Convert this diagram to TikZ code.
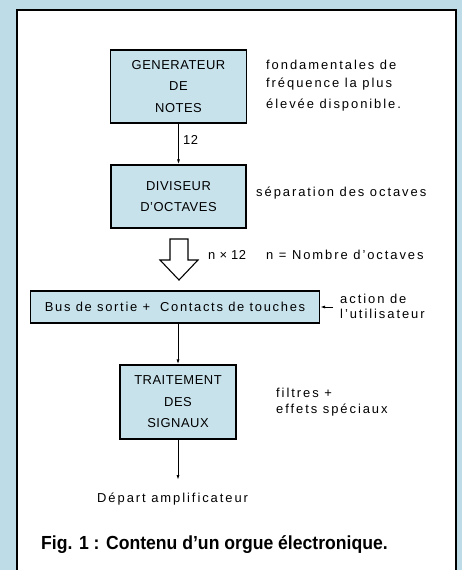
\documentclass[tikz,border=0pt]{standalone}
\usepackage{fontspec}
\usetikzlibrary{arrows.meta}
\newfontfamily\dfont[LetterSpace=4]{Liberation Sans}
\newfontfamily\lfont[LetterSpace=15]{Liberation Sans}
\newfontfamily\bfont[LetterSpace=13]{Liberation Sans}
\newfontfamily\capfont[FakeStretch=0.93]{Liberation Sans Bold}
\definecolor{bgblue}{RGB}{190,220,232}
\definecolor{boxblue}{RGB}{200,226,236}
\tikzset{
  blk/.style={draw=black, line width=1.3pt, fill=boxblue, inner sep=0pt, align=center,
    font=\dfont\fontsize{13}{21.5}\selectfont},
  lbl/.style={inner sep=0pt, anchor=west, align=left,
    font=\lfont\fontsize{13}{18}\selectfont},
  conn/.style={line width=0.9pt, -{Latex[length=5pt,width=3pt]}},
}
\begin{document}
\begin{tikzpicture}[x=1bp,y=-1bp]
\useasboundingbox (0,0) rectangle (462,570);
\fill[bgblue] (0,0) rectangle (462,570);
\fill[white] (17,10) rectangle (456,575);
\draw[line width=2pt] (17,575) -- (17,10) -- (456,10) -- (456,575);

\node[blk, minimum width=136bp, minimum height=73bp] (gen) at (178.5,86.5) {GENERATEUR\\DE\\NOTES};
\node[blk, minimum width=135bp, minimum height=63bp] (div) at (178.5,196.5) {DIVISEUR\\D’OCTAVES};
\node[blk, minimum width=289bp, minimum height=32bp, font=\bfont\fontsize{13}{16}\selectfont] (bus) at (175,307) {Bus de sortie +\hspace{10bp}Contacts de touches};
\node[blk, minimum width=116bp, minimum height=74bp] (trt) at (178,402) {TRAITEMENT\\DES\\SIGNAUX};
\coordinate (out) at (178,480);
\coordinate (usr) at (333,307);

\draw[conn] (gen.south) -- (div.north);
\node[lbl, font=\dfont\fontsize{13}{15}\selectfont] (n12) at (183,140) {12};
\draw[conn] (bus.south -| trt.north) -- (trt.north);
\draw[conn] (trt.south) -- (out);
\draw[conn] (usr) -- (bus.east);

% hollow arrow
\draw[line width=1.1pt, fill=white] (170,239) -- (188,239) -- (188,260) -- (198,260) -- (179,280) -- (160,260) -- (170,260) -- cycle;

\node[lbl] (t1) at (266,86) {fondamentales de\\fréquence la plus\\[3bp]élevée disponible.};
\node[lbl] (t2) at (256,193) {séparation des octaves};
\node[lbl, font=\dfont\fontsize{13}{15}\selectfont] (t3) at (208,255) {n × 12};
\node[lbl] (t4) at (266,255) {n = Nombre d’octaves};
\node[lbl, font=\lfont\fontsize{13}{15}\selectfont] (t5) at (340,306) {action de\\l’utilisateur};
\node[lbl, font=\lfont\fontsize{13}{16}\selectfont] (t6) at (276,402) {filtres +\\effets spéciaux};
\node[lbl] (t7) at (97,499) {Départ amplificateur};
\node[inner sep=0pt, anchor=west, font=\capfont\fontsize{19}{22}\selectfont] (cap) at (41,545) {Fig. 1 : Contenu d’un orgue électronique.};
\end{tikzpicture}
\end{document}
